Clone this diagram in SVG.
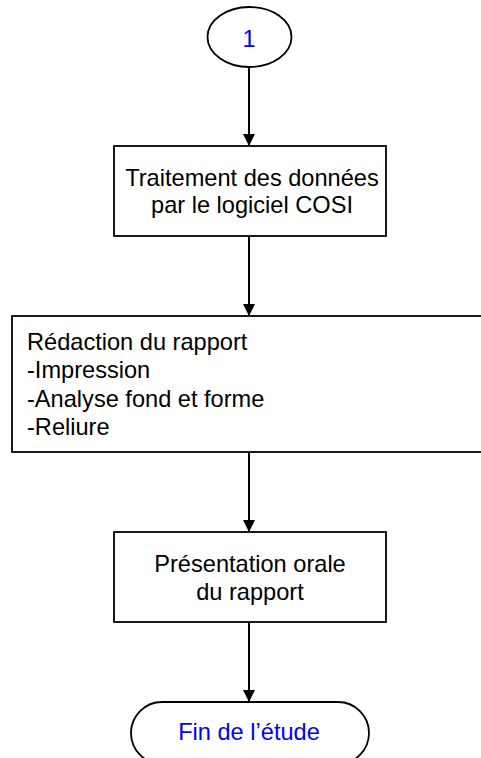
<svg xmlns="http://www.w3.org/2000/svg" width="481" height="758" viewBox="0 0 481 758">
<style>
.shape{fill:#fff;stroke:#000;stroke-width:1.8}
.t{font-family:"Liberation Sans",Arial,sans-serif;font-size:23.6px;fill:#000}
.b{fill:#0000ff}
.c{text-anchor:middle}
.edge{stroke:#000;stroke-width:2;fill:none}
</style>
<defs>
<marker id="arr" markerUnits="userSpaceOnUse" markerWidth="12" markerHeight="12" refX="12" refY="6" orient="auto">
<path d="M0,0 L12,6 L0,12 z" fill="#000"/>
</marker>
</defs>
<rect width="481" height="758" fill="#fff"/>
<g id="edges">
<line class="edge" x1="249" y1="67" x2="249" y2="146" marker-end="url(#arr)"/>
<line class="edge" x1="249" y1="236" x2="249" y2="316" marker-end="url(#arr)"/>
<line class="edge" x1="249" y1="452" x2="249" y2="532" marker-end="url(#arr)"/>
<line class="edge" x1="249" y1="622" x2="249" y2="702" marker-end="url(#arr)"/>
</g>
<g id="start">
<ellipse class="shape" cx="249.5" cy="37" rx="42" ry="30"/>
<text class="t b c" x="249" y="47">1</text>
</g>
<g id="traitement">
<rect class="shape" x="114" y="146" width="272" height="90"/>
<text class="t c" x="252" y="186">Traitement des données</text>
<text class="t c" x="252" y="213">par le logiciel COSI</text>
</g>
<g id="redaction">
<rect class="shape" x="12" y="316" width="480" height="136"/>
<text class="t" x="27" y="350">Rédaction du rapport</text>
<text class="t" x="27" y="378">-Impression</text>
<text class="t" x="27" y="407">-Analyse fond et forme</text>
<text class="t" x="27" y="435">-Reliure</text>
</g>
<g id="presentation">
<rect class="shape" x="114" y="532" width="272" height="90"/>
<text class="t c" x="250" y="572">Présentation orale</text>
<text class="t c" x="250" y="600">du rapport</text>
</g>
<g id="fin">
<rect class="shape" x="131" y="702" width="238" height="62" rx="31" ry="31"/>
<text class="t b c" x="249" y="740">Fin de l’étude</text>
</g>
</svg>
